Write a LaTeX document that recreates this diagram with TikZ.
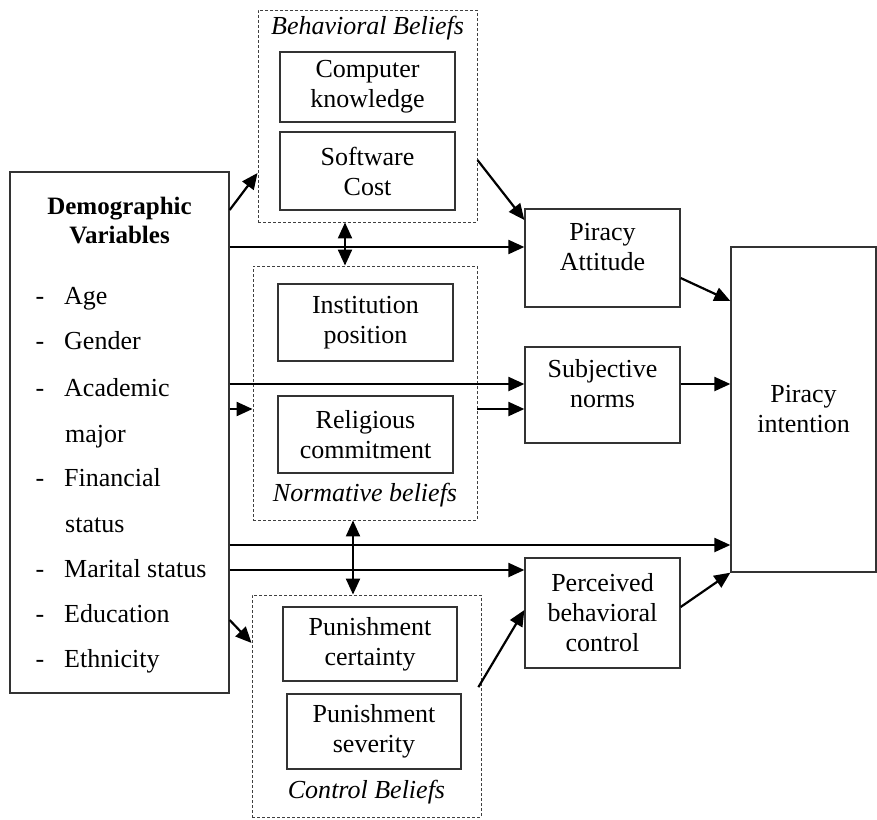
\documentclass[tikz,border=0pt]{standalone}
\usepackage{fontspec}
\setmainfont{Liberation Serif}
\usetikzlibrary{arrows.meta}

\begin{document}
\begin{tikzpicture}[x=1pt, y=-1pt,
        every node/.style={font=\fontsize{26}{30}\selectfont},
        box/.style={draw=black!80, line width=1.3pt, align=center, inner sep=0pt},
        group/.style={draw=black!75, line width=0.9pt, dash pattern=on 3pt off 2pt, inner sep=0pt},
        grouptitle/.style={font=\fontsize{26}{30}\selectfont\itshape},
        arr/.style={line width=2.2pt, -{Triangle[length=16pt,width=14pt]}},
        dblarr/.style={line width=2.2pt, {Triangle[length=16pt,width=14pt]}-{Triangle[length=16pt,width=14pt]}}]
            \useasboundingbox (0,0) rectangle (877,819);
            % belief groups
            \node[group, minimum width=219pt, minimum height=212pt] (bb) at (367.5,116) {};
            \node[group, minimum width=224pt, minimum height=254pt] (nb) at (365,393) {};
            \node[group, minimum width=229pt, minimum height=222pt] (cb) at (366.5,706) {};
            \node[grouptitle] (bbt) at (367.5,28) {Behavioral Beliefs};
            \node[grouptitle] (nbt) at (365,495) {Normative beliefs};
            \node[grouptitle] (cbt) at (366.5,792) {Control Beliefs};
            \node[box, minimum width=175pt, minimum height=70pt] (ck) at (367.5,87) {Computer\\knowledge};
            \node[box, minimum width=175pt, minimum height=78pt] (sc) at (367.5,171) {Software\\Cost};
            \node[box, minimum width=175pt, minimum height=77pt] (ip) at (365.5,322.5) {Institution\\position};
            \node[box, minimum width=175pt, minimum height=77pt] (rc) at (365.5,434.5) {Religious\\commitment};
            \node[box, minimum width=174pt, minimum height=74pt] (pc) at (370,644) {Punishment\\certainty};
            \node[box, minimum width=174pt, minimum height=75pt] (ps) at (374,731.5) {Punishment\\severity};
            % demographic variables
            \node[box, minimum width=219pt, minimum height=521pt] (dv) at (119.5,432.5) {};
            \node[font=\fontsize{25}{29}\selectfont\bfseries, align=center] (dvt) at (119.5,221) {Demographic\\Variables};
            \foreach \yy/\txt [count=\i] in {304/Age, 349/Gender, 396/Academic, 486/Financial,
                    577/Marital status, 622/Education, 667/Ethnicity} {
                \node[anchor=base, inner sep=0pt] (dash\i) at (40,\yy) {-};
                \node[anchor=base west, inner sep=0pt] (item\i) at (64,\yy) {\txt};
            }
            \foreach \yy/\txt [count=\i] in {442/major, 532/status}
                \node[anchor=base west, inner sep=0pt] (cont\i) at (65,\yy) {\txt};
            % constructs
            \node[box, minimum width=155pt, minimum height=98pt] (pa) at (602.5,258) {Piracy\\Attitude\\[-16pt]\strut};
            \node[box, minimum width=155pt, minimum height=96pt] (sn) at (602.5,395) {Subjective\\norms\\[-16pt]\strut};
            \node[box, minimum width=155pt, minimum height=110pt] (pbc) at (602.5,613) {Perceived\\behavioral\\control};
            \node[box, minimum width=145pt, minimum height=325pt] (pi) at (803.5,409.5) {Piracy\\intention};
            % arrows
            \draw[arr] (dv.east |- 0,210) -- (bb.west |- 0,173);
            \draw[arr] (bb.east |- 0,160) -- (pa.west |- 0,220);
            \draw[arr] (dv.east |- 0,247) -- (pa.west |- 0,247);
            \draw[arr] (pa.east |- 0,278) -- (pi.west |- 0,301);
            \draw[dblarr] (bb.south -| 345,0) -- (nb.north -| 345,0);
            \draw[arr] (dv.east |- 0,384) -- (sn.west |- 0,384);
            \draw[arr] (dv.east |- 0,409) -- (nb.west |- 0,409);
            \draw[arr] (nb.east |- 0,409) -- (sn.west |- 0,409);
            \draw[arr] (sn.east |- 0,384) -- (pi.west |- 0,384);
            \draw[dblarr] (nb.south -| 353,0) -- (cb.north -| 353,0);
            \draw[arr] (dv.east |- 0,545) -- (pi.west |- 0,545);
            \draw[arr] (dv.east |- 0,570) -- (pbc.west |- 0,570);
            \draw[arr] (dv.east |- 0,620) -- (cb.west |- 0,643);
            \draw[arr, shorten <=-6pt] (cb.east |- 0,682) -- (pbc.west |- 0,610);
            \draw[arr] (pbc.east |- 0,607) -- (pi.south west);
        \end{tikzpicture}
\end{document}
